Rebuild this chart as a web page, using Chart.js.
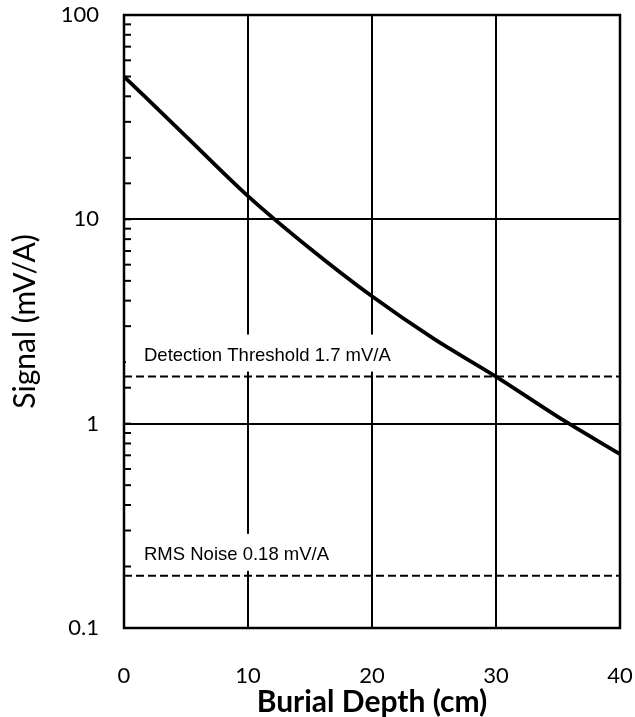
<!DOCTYPE html>
<html>
<head>
<meta charset="utf-8">
<script src="https://cdn.jsdelivr.net/npm/chart.js@4"></script>
<style>
  body { margin: 0; background: #fff; }
  canvas { display: block; }
</style>
</head>
<body>
<canvas id="myChart" width="635" height="717"></canvas>
<script>
  let depths = [0, 5, 10, 15, 20, 25, 30, 35, 40];
  let signal = [50, 25.5, 13, 7.2, 4.2, 2.6, 1.7, 1.08, 0.71];

  let thresholdValue = 1.7;
  let thresholdLabel = "Detection Threshold 1.7 mV/A";
  let noiseValue = 0.18;
  let noiseLabel = "RMS Noise 0.18 mV/A";

  let xTicks = [0, 10, 20, 30, 40];
  let yTickLabels = [0.1, 1, 10, 100];

  function isDecade(v) {
    return yTickLabels.some(function (d) { return Math.abs(v - d) < d * 1e-6; });
  }

  function flatLine(value) {
    return [
      { x: xTicks[0], y: value },
      { x: xTicks[xTicks.length - 1], y: value },
    ];
  }

  // minor ticks on the y axis, white label boxes, then the frame
  let decorations = {
    id: "decorations",
    beforeDatasetsDraw(chart) {
      let ctx = chart.ctx;
      let area = chart.chartArea;
      let y = chart.scales.y;
      ctx.save();
      ctx.strokeStyle = "#000";
      ctx.lineWidth = 2;
      y.ticks.forEach(function (t) {
        let py = y.getPixelForValue(t.value);
        ctx.beginPath();
        ctx.moveTo(area.left, py);
        ctx.lineTo(area.left + 7, py);
        ctx.stroke();
      });

      ctx.font = "18.5px 'Liberation Sans', Arial, sans-serif";
      ctx.textBaseline = "alphabetic";
      let labels = [
        { v: thresholdValue, text: thresholdLabel, boxLeft: 2 },
        { v: noiseValue, text: noiseLabel, boxLeft: 8 },
      ];
      labels.forEach(function (l) {
        let py = y.getPixelForValue(l.v);
        let tx = area.left + 20;
        let w = ctx.measureText(l.text).width;
        ctx.fillStyle = "#fff";
        ctx.fillRect(area.left + l.boxLeft, py - 42, tx + w + 8 - (area.left + l.boxLeft), 37);
        ctx.fillStyle = "#000";
        ctx.fillText(l.text, tx, py - 15.5);
      });
      ctx.restore();
    },
    afterDatasetsDraw(chart) {
      let ctx = chart.ctx;
      let a = chart.chartArea;
      ctx.save();
      ctx.strokeStyle = "#000";
      ctx.lineWidth = 2.5;
      ctx.strokeRect(a.left, a.top, a.right - a.left, a.bottom - a.top);
      ctx.restore();
    },
  };

  let ctx = document.getElementById("myChart").getContext("2d");
  let chart = new Chart(ctx, {
    type: "line",
    data: {
      datasets: [
        {
          label: "Signal",
          data: depths.map(function (d, i) { return { x: d, y: signal[i] }; }),
          borderColor: "#000",
          borderWidth: 3.8,
          pointRadius: 0,
          cubicInterpolationMode: "monotone",
          fill: false,
        },
        {
          label: "Detection Threshold",
          data: flatLine(thresholdValue),
          borderColor: "#000",
          borderWidth: 2,
          borderDash: [8, 4],
          pointRadius: 0,
          fill: false,
        },
        {
          label: "RMS Noise",
          data: flatLine(noiseValue),
          borderColor: "#000",
          borderWidth: 2,
          borderDash: [8, 4],
          pointRadius: 0,
          fill: false,
        },
      ],
    },
    options: {
      responsive: false,
      animation: false,
      layout: { padding: { top: 15, right: 15, left: 0, bottom: 0 } },
      plugins: {
        legend: { display: false },
        tooltip: { enabled: false },
      },
      scales: {
        x: {
          type: "linear",
          min: 0,
          max: 40,
          afterFit(scale) {
            scale.height = 89;
            scale.paddingLeft = 0;
            scale.paddingRight = 0;
          },
          afterBuildTicks(scale) {
            scale.ticks = xTicks.map(function (v) { return { value: v }; });
          },
          border: { display: false },
          grid: {
            drawTicks: false,
            lineWidth: 2,
            color: function (c) {
              let v = c.tick ? c.tick.value : null;
              return v > 0 && v < 40 ? "#000" : "rgba(0,0,0,0)";
            },
          },
          ticks: {
            padding: 35,
            color: "#000",
            font: { family: "Lato", size: 22 },
            maxRotation: 0,
          },
          title: {
            display: true,
            text: "Burial Depth (cm)",
            color: "#000",
            font: { family: "Lato", size: 30, weight: "bold", lineHeight: 1 },
            padding: { top: 0, bottom: 0 },
          },
        },
        y: {
          type: "logarithmic",
          min: 0.1,
          max: 100,
          afterFit(scale) {
            scale.width = 124;
            scale.paddingTop = 0;
            scale.paddingBottom = 0;
          },
          border: { display: false },
          grid: {
            drawTicks: false,
            lineWidth: 2,
            color: function (c) {
              let v = c.tick ? c.tick.value : null;
              return v === 1 || v === 10 ? "#000" : "rgba(0,0,0,0)";
            },
          },
          ticks: {
            autoSkip: false,
            padding: 25,
            color: "#000",
            font: { family: "Lato", size: 22 },
            callback: function (v) {
              return isDecade(v) ? String(v) : "";
            },
          },
          title: {
            display: true,
            text: "Signal (mV/A)",
            color: "#000",
            font: { family: "Lato", size: 30, lineHeight: 1.2 },
            padding: { top: 7, bottom: 0 },
          },
        },
      },
    },
    plugins: [decorations],
  });
</script>
</body>
</html>
